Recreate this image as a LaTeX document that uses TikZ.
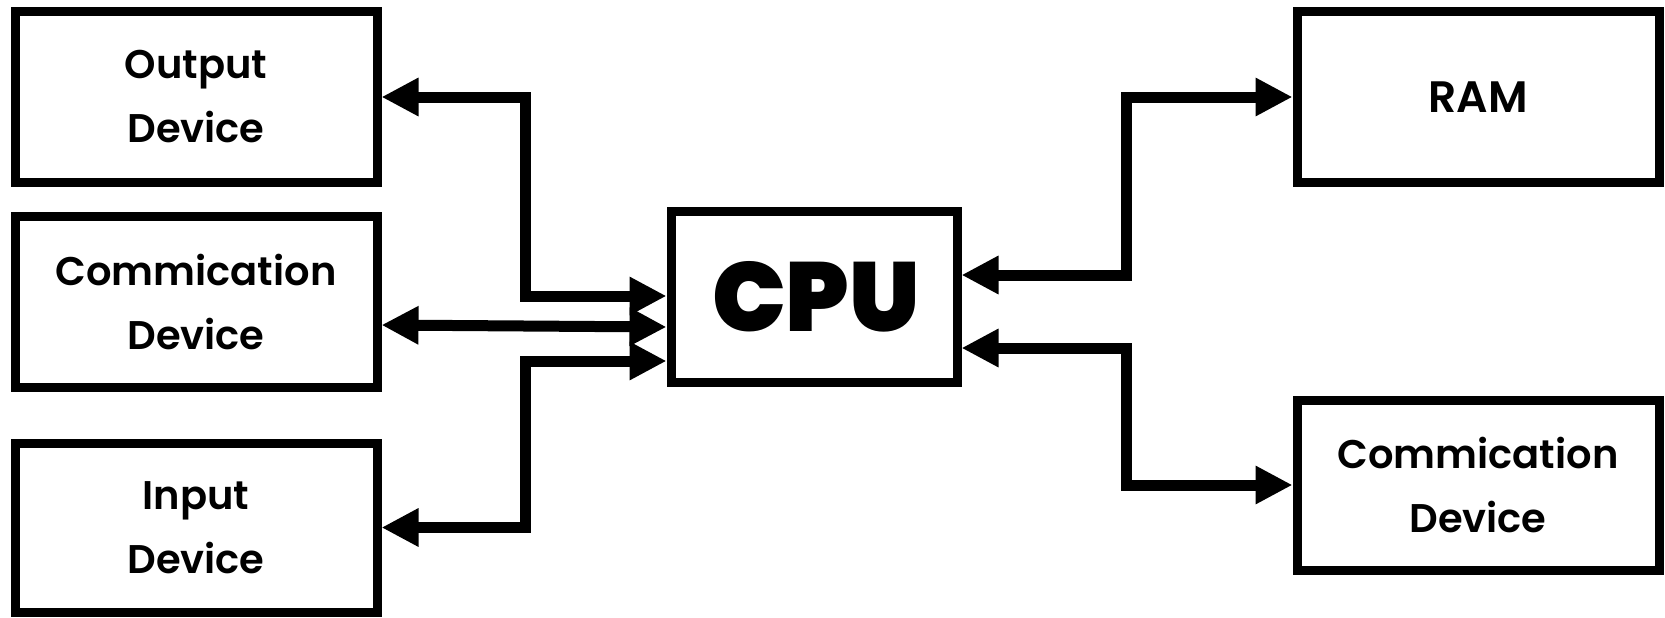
\documentclass[tikz,border=0pt]{standalone}
\usepackage{fontspec}
\usetikzlibrary{arrows.meta,calc}
\newfontfamily\labelfont{Poppins SemiBold}
\newfontfamily\cpufont{Poppins Black}
\begin{document}
\begin{tikzpicture}[x=1pt,y=-1pt,
  box/.style={draw, line width=9pt, minimum width=362pt, minimum height=171pt, inner sep=0pt, align=center, font=\labelfont\fontsize{40}{64}\selectfont},
  cpubox/.style={draw, line width=9pt, minimum width=286pt, minimum height=171pt, inner sep=0pt, font=\cpufont\fontsize{98}{100}\selectfont},
  conn/.style={line width=11pt, line join=miter, {Triangle[length=37pt,width=36pt]}-{Triangle[length=37pt,width=36pt]}}]
\useasboundingbox (0,0) rectangle (1665,618);
\node[box] (out) at (196,97) {Output\\Device};
\node[box] (cl) at (196,301.5) {Commication\\Device};
\node[box, minimum height=169pt] (in) at (196,527.5) {Input\\Device};
\node[cpubox] (cpu) at (814,297) {\kern4pt CPU};
\node[box, font=\labelfont\fontsize{44}{64}\selectfont] (ram) at (1478,97) {RAM};
\node[box, minimum height=170pt] (cr) at (1478,485) {Commication\\Device};
\coordinate (lbus) at (525,0);
\coordinate (rbus) at (1126,0);
\draw[conn] (out.east) -- (out.east -| lbus) |- ([yshift=1pt]cpu.west);
\draw[conn] ([yshift=-23.5pt]cl.east) -- ([yshift=-30pt]cpu.west);
\draw[conn] (in.east) -- (in.east -| lbus) |- ([yshift=-64pt]cpu.west);
\draw[conn] (ram.west) -- (ram.west -| rbus) |- ([yshift=22pt]cpu.east);
\draw[conn] (cr.west) -- (cr.west -| rbus) |- ([yshift=-51pt]cpu.east);
\end{tikzpicture}
\end{document}
